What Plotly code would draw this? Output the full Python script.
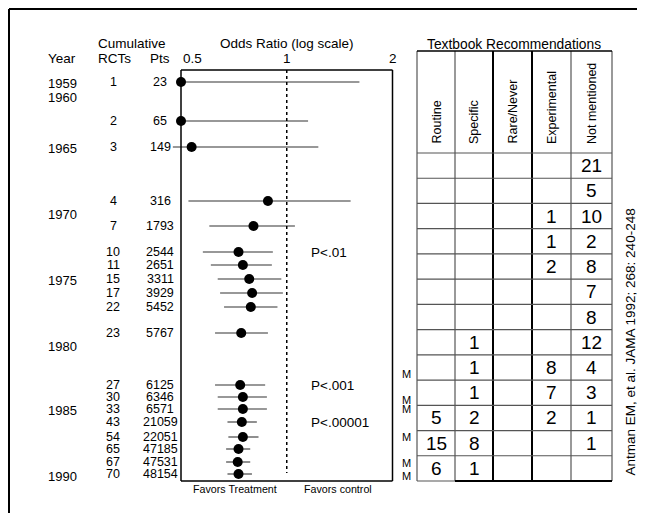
import math
import plotly.graph_objects as go

# The page body has an 8px margin, so the figure starts at screen (8, 8).
W, H = 645, 513
OFF = 8
FW, FH = W - OFF, H - OFF

# ---------------- data ----------------
years = [1959, 1960, 1965, 1970, 1975, 1980, 1985, 1990]
year_y = [83, 97, 148, 214, 280, 346, 410, 476]

rcts = [1, 2, 3, 4, 7, 10, 11, 15, 17, 22, 23, 27, 30, 33, 43, 54, 65, 67, 70]
pts = [23, 65, 149, 316, 1793, 2544, 2651, 3311, 3929, 5452, 5767, 6125, 6346,
       6571, 21059, 22051, 47185, 47531, 48154]
odds = [0.50, 0.50, 0.536, 0.884, 0.804, 0.729, 0.750, 0.782, 0.797, 0.790,
        0.742, 0.737, 0.750, 0.750, 0.745, 0.750, 0.729, 0.725, 0.729]
ci_low = [0.50, 0.50, 0.474, 0.525, 0.602, 0.577, 0.608, 0.636, 0.646, 0.663,
          0.625, 0.625, 0.636, 0.636, 0.678, 0.682, 0.672, 0.672, 0.678]
ci_high = [1.61, 1.15, 1.23, 1.52, 1.055, 0.913, 0.907, 0.965, 0.975, 0.941,
           0.884, 0.868, 0.878, 0.878, 0.822, 0.831, 0.787, 0.787, 0.796]
row_y = [82, 121, 147, 201, 226, 252, 265, 279, 293, 307, 333, 385, 397, 409,
         422, 437, 449, 462, 474]

p_labels = ["P<.01", "P<.001", "P<.00001"]
p_y = [252, 385, 422]

meta_y = [374, 400, 409, 437, 463, 476]

x_ticks = [0.5, 1, 2]
x_tick_labels = ["0.5", "1", "2"]

table_cols = ["Routine", "Specific", "Rare/Never", "Experimental", "Not mentioned"]
routine = [None] * 10 + [5, 15, 6]
specific = [None] * 7 + [1, 1, 1, 2, 8, 1]
rare_never = [None] * 13
experimental = [None, None, 1, 1, 2, None, None, None, 8, 7, 2, None, None]
not_mentioned = [21, 5, 10, 2, 8, 7, 8, 12, 4, 3, 1, 1, None]
table_values = [routine, specific, rare_never, experimental, not_mentioned]

# ---------------- layout geometry (screen pixels) ----------------
FONT = "Arial, Liberation Sans, sans-serif"
X05, X2 = 181, 392.5          # pixel positions of OR 0.5 and 2
BOX_TOP, BOX_BOT = 70, 481
DOM_L, DOM_R = 160, 405
per_log = (X2 - X05) / (math.log10(2) - math.log10(0.5))
rng_lo = math.log10(0.5) - (X05 - DOM_L) / per_log
rng_hi = math.log10(2) + (DOM_R - X2) / per_log

col_x = [417, 455, 493, 532, 571, 612]
T_TOP, T_HEAD, T_BOT = 51, 153, 481
nrows = len(not_mentioned)
row_h = (T_BOT - T_HEAD) / nrows


def px(x):
    return (x - OFF) / FW


fig = go.Figure()

# confidence intervals + point estimates
fig.add_trace(go.Scatter(
    x=odds, y=row_y, mode="markers",
    marker=dict(color="black", size=10, symbol="circle"),
    error_x=dict(type="data", symmetric=False,
                 array=[h - o for h, o in zip(ci_high, odds)],
                 arrayminus=[o - l for o, l in zip(odds, ci_low)],
                 color="#333333", thickness=1.1, width=0),
    cliponaxis=False, hoverinfo="skip"))

shapes = []
# forest box
for (x0, y0, x1, y1) in [(0.5, BOX_TOP, 2, BOX_TOP), (0.5, BOX_BOT, 2, BOX_BOT),
                         (0.5, BOX_TOP, 0.5, BOX_BOT), (2, BOX_TOP, 2, BOX_BOT)]:
    shapes.append(dict(type="line", xref="x", yref="y", x0=x0, x1=x1, y0=y0, y1=y1,
                       line=dict(color="black", width=1.5)))
shapes.append(dict(type="line", xref="x", yref="y", x0=1, x1=1, y0=BOX_TOP, y1=473,
                   line=dict(color="black", width=1.5, dash="dot")))

# outer frame
shapes.append(dict(type="line", xref="paper", yref="y", x0=px(9), x1=px(W), y0=9, y1=9,
                   line=dict(color="black", width=2)))
shapes.append(dict(type="line", xref="paper", yref="y", x0=px(9), x1=px(9), y0=9, y1=H,
                   line=dict(color="black", width=2)))

# table grid
grey = dict(color="#555555", width=1.2)
for i, cx in enumerate(col_x):
    thick = i in (2, 3)
    shapes.append(dict(type="line", xref="paper", yref="y", x0=px(cx), x1=px(cx),
                       y0=T_TOP, y1=T_BOT,
                       line=dict(color="black", width=2) if thick else grey))
shapes.append(dict(type="line", xref="paper", yref="y", x0=px(col_x[0]), x1=px(col_x[-1]),
                   y0=T_TOP, y1=T_TOP, line=dict(color="black", width=1.5)))
for r in range(nrows):
    yy = T_HEAD + r * row_h
    shapes.append(dict(type="line", xref="paper", yref="y", x0=px(col_x[0]), x1=px(col_x[-1]),
                       y0=yy, y1=yy, line=grey))
shapes.append(dict(type="line", xref="paper", yref="y", x0=px(col_x[0]), x1=px(col_x[1]),
                   y0=T_BOT, y1=T_BOT, line=grey))
shapes.append(dict(type="line", xref="paper", yref="y", x0=px(col_x[1]), x1=px(col_x[-1]),
                   y0=T_BOT, y1=T_BOT, line=dict(color="black", width=2)))

ann = []


def text(x, y, s, size=13.5, xanchor="center", yanchor="middle", angle=0):
    ann.append(dict(x=px(x), y=y, xref="paper", yref="y", text=s, showarrow=False,
                    xanchor=xanchor, yanchor=yanchor, textangle=angle,
                    font=dict(family=FONT, size=size, color="black")))


# headers
text(132, 43.5, "Cumulative")
text(62, 58, "Year")
text(114, 58, "RCTs")
text(160, 58, "Pts")
text(287, 43, "Odds Ratio (log scale)")
for v, lab in zip(x_ticks, x_tick_labels):
    xpix = X05 + (math.log10(v) - math.log10(0.5)) * per_log
    if v == 0.5:
        text(xpix, 58, lab, xanchor="left")
    else:
        text(xpix, 58, lab)

for yv, yy in zip(years, year_y):
    text(62, yy, str(yv), size=13)
for r, p, yy in zip(rcts, pts, row_y):
    text(113, yy, str(r), size=12.5)
    text(160, yy, str(p), size=12.5)

for lab, yy in zip(p_labels, p_y):
    text(309, yy, lab, xanchor="left")

text(235, 489, "Favors Treatment", size=10.7)
text(338, 489, "Favors control", size=10.7)

for yy in meta_y:
    text(406, yy, "M", size=11)

# table
text(514, 44, "Textbook Recommendations", size=13.8)
for i, name in enumerate(table_cols):
    cx = (col_x[i] + col_x[i + 1]) / 2
    text(cx, 146, name, size=12.5, yanchor="bottom", angle=-90)
    for r, val in enumerate(table_values[i]):
        if val is None:
            continue
        text(cx, T_HEAD + (r + 0.5) * row_h, str(val), size=19)

text(630, 342.5, "Antman EM, et al. JAMA 1992; 268: 240-248", size=13.5, angle=-90)

fig.update_layout(
    width=FW, height=FH, margin=dict(l=0, r=0, t=0, b=0),
    paper_bgcolor="white", plot_bgcolor="white", showlegend=False,
    xaxis=dict(type="log", domain=[px(DOM_L), px(DOM_R)], range=[rng_lo, rng_hi],
               visible=False, fixedrange=True),
    yaxis=dict(domain=[0, 1], range=[H, OFF], visible=False, fixedrange=True),
    shapes=shapes, annotations=ann,
)

fig.write_html("out.html")
